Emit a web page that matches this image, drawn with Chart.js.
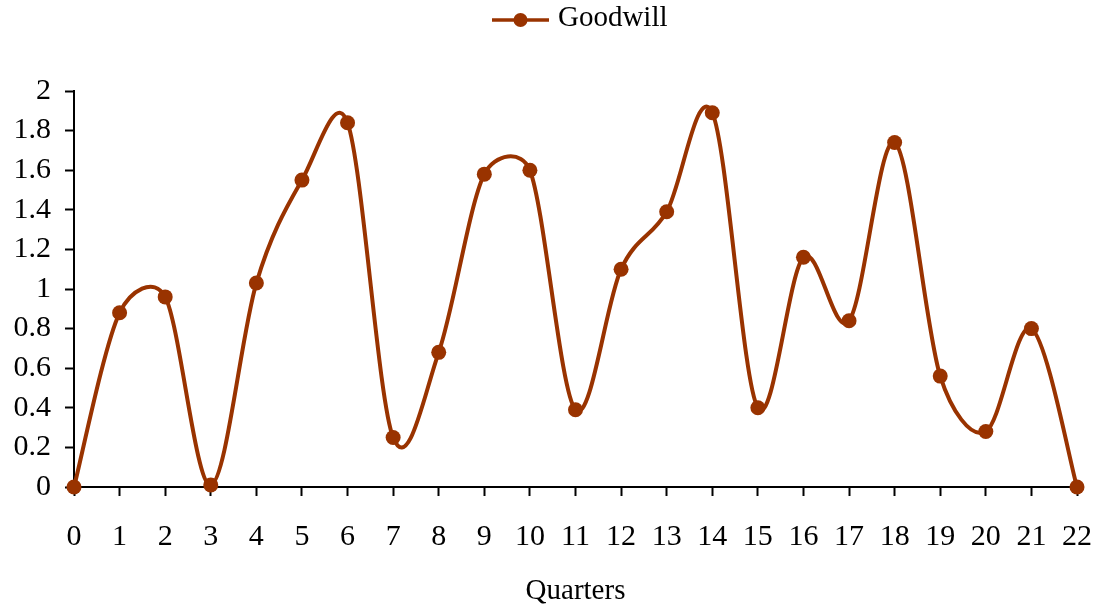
<!DOCTYPE html>
<html>
<head>
<meta charset="utf-8">
<title>Goodwill by quarter</title>
<script src="https://cdn.jsdelivr.net/npm/chart.js@4/dist/chart.umd.min.js"></script>
<style>
  html, body { margin: 0; padding: 0; background: #ffffff; }
  #wrap { width: 1104px; height: 615px; }
</style>
</head>
<body>
<div id="wrap"><canvas id="chart" width="1104" height="615"></canvas></div>
<script>
// Quarter numbers along the bottom axis
const quarters = ['0','1','2','3','4','5','6','7','8','9','10','11','12','13','14','15','16','17','18','19','20','21','22'];
// Goodwill value per quarter
const goodwill = [0, 0.88, 0.96, 0.01, 1.03, 1.55, 1.84, 0.25, 0.68, 1.58, 1.60, 0.39, 1.10, 1.39, 1.89, 0.40, 1.16, 0.84, 1.74, 0.56, 0.28, 0.80, 0];
// Labels for the value axis
const yTickLabels = ['0','0.2','0.4','0.6','0.8','1','1.2','1.4','1.6','1.8','2'];

const seriesColor = '#993300';
const serif = '"Liberation Serif", "Times New Roman", serif';

// Legend symbol: a short line with a dot on it (left part of the canvas left blank)
const legendMark = document.createElement('canvas');
legendMark.width = 71;
legendMark.height = 19;
(function () {
  const c = legendMark.getContext('2d');
  c.strokeStyle = seriesColor;
  c.lineWidth = 3.5;
  c.beginPath();
  c.moveTo(14, 11);
  c.lineTo(71, 11);
  c.stroke();
  c.fillStyle = seriesColor;
  c.beginPath();
  c.arc(42.5, 11, 7, 0, Math.PI * 2);
  c.fill();
})();

// Spreadsheet-style smoothing: each control arm is 1/6 of the chord through
// the neighbours, but never longer than half of the adjoining segment.
const smoothLine = {
  id: 'smoothLine',
  beforeDatasetDraw(chart, args) {
    const meta = args.meta;
    const line = meta.dataset;
    if (!line) return;
    line.updateControlPoints(chart.chartArea, meta.indexAxis);
    const pts = meta.data;
    const f = 1 / 6;
    for (let i = 0; i < pts.length; i++) {
      const p = pts[i];
      const prev = pts[i - 1] || p;
      const next = pts[i + 1] || p;
      const dx = next.x - prev.x;
      const dy = next.y - prev.y;
      const chord = Math.hypot(dx, dy);
      let fIn = f, fOut = f;
      if (chord > 0) {
        fIn = Math.min(f, Math.hypot(p.x - prev.x, p.y - prev.y) / (2 * chord));
        fOut = Math.min(f, Math.hypot(next.x - p.x, next.y - p.y) / (2 * chord));
      }
      p.cp1x = p.x - fIn * dx;
      p.cp1y = p.y - fIn * dy;
      p.cp2x = p.x + fOut * dx;
      p.cp2y = p.y + fOut * dy;
    }
    line._path = undefined;
  }
};

new Chart(document.getElementById('chart'), {
  type: 'line',
  data: {
    labels: quarters,
    datasets: [{
      label: 'Goodwill',
      data: goodwill,
      borderColor: seriesColor,
      backgroundColor: seriesColor,
      borderWidth: 4,
      borderJoinStyle: 'round',
      pointRadius: 7.5,
      pointHoverRadius: 7.5,
      pointBorderWidth: 0,
      pointBackgroundColor: seriesColor,
      tension: 0.5,
      fill: false,
      clip: false
    }]
  },
  options: {
    responsive: false,
    animation: false,
    devicePixelRatio: 1,
    layout: { padding: { left: 0, right: 27, top: 0, bottom: 0 } },
    plugins: {
      legend: {
        display: true,
        position: 'top',
        fullSize: false,
        weight: 1000,
        labels: {
          usePointStyle: true,
          pointStyle: legendMark,
          pointStyleWidth: 60,
          padding: 4,
          color: '#000000',
          font: { family: serif, size: 29 }
        }
      },
      // empty title used as the gap between the legend and the plot
      title: {
        display: true,
        text: '',
        weight: 100,
        font: { size: 10, lineHeight: 1 },
        padding: { top: 0, bottom: 38 }
      },
      tooltip: { enabled: false }
    },
    scales: {
      x: {
        type: 'category',
        offset: false,
        afterFit: s => { s.height = 128; },
        border: { display: true, color: '#000000', width: 2 },
        grid: {
          display: true,
          drawOnChartArea: false,
          drawTicks: true,
          tickLength: 9,
          tickWidth: 2,
          tickColor: '#000000'
        },
        ticks: {
          color: '#000000',
          font: { family: serif, size: 30, lineHeight: 1.93 },
          padding: 12,
          maxRotation: 0,
          autoSkip: false
        },
        title: {
          display: true,
          text: 'Quarters',
          color: '#000000',
          font: { family: serif, size: 29 },
          padding: { top: 0, bottom: 6 }
        }
      },
      y: {
        min: 0,
        max: 2,
        afterFit: s => { s.width = 74; },
        border: { display: true, color: '#000000', width: 2 },
        grid: {
          display: true,
          drawOnChartArea: false,
          drawTicks: true,
          tickLength: 9,
          tickWidth: 2,
          tickColor: '#000000'
        },
        ticks: {
          stepSize: 0.2,
          color: '#000000',
          font: { family: serif, size: 30 },
          padding: 14,
          callback: (value, index) => yTickLabels[index]
        }
      }
    }
  },
  plugins: [smoothLine]
});
</script>
</body>
</html>
